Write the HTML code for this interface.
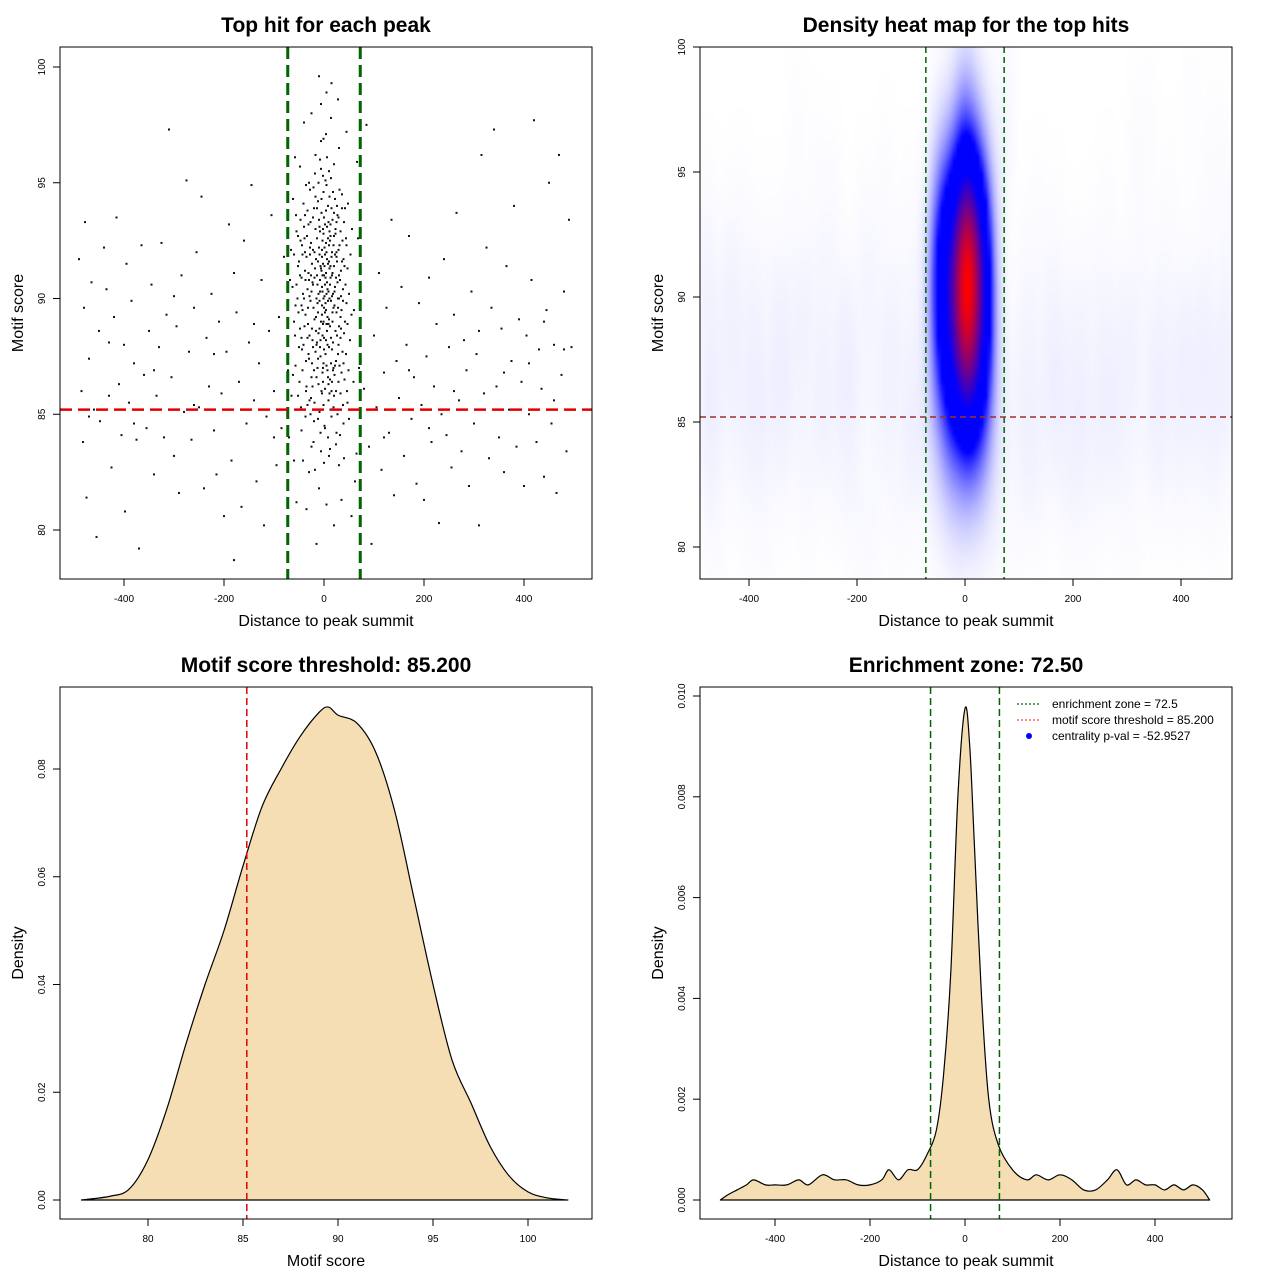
<!DOCTYPE html>
<html><head><meta charset="utf-8">
<style>
html,body{margin:0;padding:0;background:#fff;width:1280px;height:1280px;overflow:hidden;font-family:"Liberation Sans",sans-serif;}
#heat{position:absolute;left:700px;top:47px;}
#svg{position:absolute;left:0;top:0;}
</style></head>
<body>
<canvas id="heat" width="532" height="532"></canvas>
<svg id="svg" width="1280" height="1280" xmlns="http://www.w3.org/2000/svg"></svg>
<script>
// ---------- data ----------
const outerHits = [[-490,91.7],[-485,86],[-482,83.8],[-480,89.6],[-478,93.3],[-475,81.4],[-470,87.4],[-465,90.7],[-460,85.2],[-455,79.7],[-450,88.6],[-448,84.7],[-440,92.2],[-435,90.4],[-430,85.8],[-425,82.7],[-420,89.2],[-415,93.5],[-410,86.3],[-405,84.1],[-400,88.0],[-398,80.8],[-395,91.5],[-390,85.5],[-385,89.9],[-380,87.2],[-375,83.9],[-370,79.2],[-365,92.3],[-360,86.7],[-355,84.4],[-350,88.6],[-345,90.6],[-340,82.4],[-335,85.8],[-330,87.9],[-325,92.4],[-320,84.0],[-315,89.3],[-310,97.3],[-305,86.6],[-300,83.2],[-295,88.8],[-290,81.6],[-285,91.0],[-280,85.1],[-275,95.1],[-270,87.7],[-265,83.9],[-260,89.6],[-255,92.0],[-250,85.3],[-245,94.4],[-240,81.8],[-235,88.3],[-230,86.2],[-225,90.2],[-220,84.3],[-215,82.4],[-210,89.0],[-205,85.9],[-200,80.6],[-195,87.7],[-190,93.2],[-185,83.0],[-180,78.7],[-175,89.4],[-170,86.4],[-165,81.0],[-160,92.5],[-155,84.6],[-150,88.1],[-145,94.9],[-140,85.6],[-135,82.1],[-130,87.2],[-125,90.8],[-120,80.2],[-115,84.9],[-110,88.6],[-105,93.6],[-100,86.0],[-95,82.8],[-90,89.2],[-85,84.4],[-80,91.8],
[80,86.1],[85,97.5],[90,83.6],[95,79.4],[100,88.4],[105,85.3],[110,91.1],[115,82.6],[120,86.8],[125,89.6],[130,84.2],[135,93.4],[140,81.5],[145,87.3],[150,85.7],[155,90.5],[160,83.2],[165,88.0],[170,92.7],[175,84.8],[180,86.6],[185,82.0],[190,89.8],[195,85.4],[200,81.3],[205,87.5],[210,90.9],[215,83.8],[220,86.2],[225,88.9],[230,80.3],[235,85.0],[240,91.7],[245,84.1],[250,87.9],[255,82.7],[260,89.3],[265,93.7],[270,85.6],[275,83.4],[280,88.2],[285,86.9],[290,81.9],[295,90.3],[300,84.6],[305,87.6],[310,80.2],[315,96.2],[320,85.9],[325,92.2],[330,83.1],[335,89.6],[340,97.3],[345,86.2],[350,84.0],[355,88.7],[360,82.5],[365,91.4],[370,85.2],[375,87.3],[380,94.0],[385,83.6],[390,89.1],[395,86.4],[400,81.9],[405,88.4],[410,85.0],[415,90.8],[420,97.7],[425,83.8],[430,87.8],[435,86.1],[440,82.3],[445,89.5],[450,95.0],[455,84.6],[460,88.0],[465,81.6],[470,96.2],[475,86.7],[480,90.3],[485,83.4],[490,93.4],[495,87.9],[498,85.2],
[-470,84.9],[-430,88.1],[-380,84.6],[-340,86.9],[-300,90.1],[-260,85.4],[-220,87.6],[-180,91.1],[-140,88.9],[-100,84.0],[120,84.0],[170,86.9],[210,84.4],[260,86.0],[310,88.6],[360,86.8],[410,87.2],[460,85.6],[480,87.8],[440,89.0]];
const centralHits = [[-5,91.2],[3,89.8],[12,92.5],[-14,88.1],[8,94.0],[-22,90.6],[18,86.9],[-2,95.3],[25,91.8],[-30,87.4],[6,88.6],[-9,93.1],[33,89.2],[-38,92.0],[15,84.9],[-17,96.2],[1,90.1],[27,93.6],[-26,85.7],[10,87.9],
[-1,92.8],[21,90.3],[-11,86.3],[36,94.5],[-45,89.7],[4,97.1],[-7,84.2],[16,91.0],[-33,93.8],[29,88.0],[-19,90.9],[9,85.6],[-4,89.3],[41,86.5],[-52,91.4],[13,93.2],[-24,88.7],[2,91.9],[20,95.8],[-13,87.0],
[7,90.4],[-36,86.0],[31,92.3],[-6,98.4],[17,89.0],[-28,94.7],[39,84.6],[0,93.5],[-16,91.7],[24,87.3],[-42,90.2],[11,92.9],[-3,86.8],[47,91.3],[-58,88.4],[5,94.9],[-21,83.8],[28,90.0],[-10,92.2],[14,88.3],
[-8,90.8],[23,93.0],[-31,91.1],[3,87.6],[35,89.5],[-47,93.4],[19,85.3],[-12,94.2],[44,92.6],[-2,88.9],[8,91.5],[-25,86.6],[30,96.5],[-15,90.0],[12,83.5],[-39,88.8],[26,91.6],[-6,95.6],[52,88.2],[-63,90.5],
[0,89.6],[16,92.0],[-20,93.9],[37,87.7],[-9,85.1],[6,90.7],[-34,92.7],[22,94.3],[-1,87.2],[43,90.6],[-49,86.4],[10,89.1],[-18,91.3],[33,85.9],[-27,89.9],[4,92.4],[-5,93.7],[18,90.2],[-41,94.1],[56,93.0],
[-12,89.4],[2,86.1],[29,92.1],[-23,88.2],[14,97.8],[-37,90.8],[9,93.3],[-3,91.0],[40,88.5],[-55,92.9],[21,86.7],[-8,90.3],[25,89.4],[-30,95.0],[1,84.5],[-14,92.6],[34,91.2],[-44,87.8],[11,90.0],[-1,94.6],
[7,88.0],[-19,85.5],[48,94.1],[-60,89.0],[15,91.8],[-26,92.4],[31,87.1],[-4,89.7],[3,95.1],[-11,88.5],[20,93.7],[-35,86.2],[38,90.4],[-50,91.6],[5,92.0],[-17,94.4],[27,85.0],[-7,87.5],[13,90.9],[-29,90.1],
[-2,91.5],[45,89.8],[-40,93.1],[9,86.3],[-13,90.6],[23,92.8],[-22,87.9],[0,88.3],[36,93.9],[-46,85.3],[17,89.4],[-6,96.8],[30,91.0],[-32,88.9],[6,93.1],[-9,91.9],[59,86.4],[-66,92.1],[12,88.8],[-16,89.2],
[2,90.6],[-24,91.5],[19,87.0],[-37,89.3],[41,91.4],[-3,92.5],[8,84.0],[-20,86.9],[26,94.0],[-53,90.0],[14,89.9],[-10,93.4],[33,88.3],[-28,92.2],[4,91.1],[-5,86.0],[22,90.5],[-43,91.9],[50,90.2],[-57,87.1],
[-1,90.0],[10,95.5],[-15,88.0],[28,89.6],[-33,90.4],[5,88.9],[-8,92.9],[37,92.5],[-48,88.7],[15,93.9],[-21,89.6],[1,92.2],[24,86.0],[-38,91.2],[44,87.6],[-4,90.5],[11,91.3],[-27,93.3],[32,90.8],[-12,87.4],
[7,89.2],[-18,95.4],[20,91.4],[-41,88.0],[3,90.9],[-6,89.0],[35,86.8],[-31,87.6],[13,92.7],[-56,93.6],[53,91.9],[-2,93.0],[18,88.1],[-23,90.7],[9,90.3],[-14,91.0],[29,93.5],[-45,90.9],[0,87.8],[42,89.0],
[-9,88.7],[16,90.1],[-35,91.8],[6,91.7],[-17,87.7],[25,92.0],[-29,88.4],[2,89.4],[39,91.7],[-51,89.4],[12,86.5],[-4,91.8],[21,89.7],[-39,92.6],[8,92.6],[-11,90.2],[30,90.0],[-25,90.3],[47,85.5],[-62,86.7],
[4,88.2],[-7,91.4],[19,92.3],[-32,89.6],[14,87.2],[-19,92.0],[34,88.7],[-1,85.4],[10,91.6],[-44,92.3],[27,90.7],[-13,89.8],[5,90.2],[-22,93.5],[40,93.3],[-48,91.0],[17,91.1],[-3,88.4],[23,88.6],[-36,87.3],
[-60,83.0],[62,82.1],[-30,82.5],[35,81.3],[-10,81.8],[20,80.2],[-45,84.3],[50,84.8],[0,82.9],[-20,84.7],[10,83.2],[-55,81.2],[40,83.1],[-15,79.4],[25,84.2],[-35,80.9],[55,80.6],[5,81.1],[-25,83.6],[30,82.8],
[-70,84.0],[70,87.0],[65,83.3],[-65,85.8],[68,92.6],[-68,90.8],[72,98.3],[-72,86.9],[66,95.9],[-58,96.1],[45,97.2],[-40,97.6],[15,99.3],[-10,99.6],[5,98.9],[-25,98.0],[28,98.6],[-48,95.7],[60,89.5],[-62,94.3],
[-4,85.9],[13,85.2],[-27,85.0],[32,84.1],[-12,84.8],[8,86.6],[-37,84.9],[46,86.0],[-52,85.8],[20,85.8],[-6,83.4],[2,84.4],[-18,82.6],[38,85.4],[-42,83.0],[24,83.7],[-2,87.0],[16,86.4],[-33,85.4],[11,85.9],
[-28,91.9],[17,93.4],[-8,87.9],[33,92.9],[-43,89.5],[4,93.8],[-15,86.6],[26,88.4],[-55,90.6],[12,90.6],[-21,94.8],[38,89.9],[-1,89.0],[7,86.9],[-33,88.3],[22,91.9],[-5,94.3],[47,88.9],[-47,92.5],[14,95.2],
[-12,91.6],[29,86.4],[-38,93.6],[1,91.4],[19,89.6],[-24,87.2],[9,88.9],[-60,91.9],[42,93.9],[-3,90.3],[31,94.7],[-17,93.0],[5,87.1],[-30,90.8],[24,90.9],[-8,96.0],[55,89.3],[-50,87.9],[16,87.8],[-19,89.1],
[-36,94.9],[8,89.9],[28,87.6],[-11,95.0],[2,93.2],[-26,91.0],[36,91.6],[-45,88.3],[11,94.4],[-2,86.4],[20,92.7],[-14,93.9],[-52,92.7],[45,92.3],[6,96.1],[-22,92.1],[30,88.8],[-7,88.2],[15,86.0],[-40,90.0],
[0,91.0],[-31,93.2],[25,93.3],[-9,89.9],[13,91.4],[-57,89.7],[39,87.2],[-4,92.1],[18,94.6],[-23,86.2],[4,89.5],[-43,86.9],[34,90.1],[-16,88.6],[10,92.3],[-1,96.9],[49,86.9],[-29,85.6],[22,87.1],[-6,91.3]];
// density curve: motif score
const scoreX = [76.5,78,79,80,81,82,83,84,85,86,87,88,89,89.5,90,91,92,93,94,95,96,97,98,99,100,101,102.1];
const scoreDens = [0,.0007,.002,.0075,.017,.029,.040,.050,.062,.073,.080,.086,.0905,.0915,.090,.0885,.083,.072,.056,.040,.026,.018,.010,.0045,.0015,.0004,0];
// density curve: distance
const distX = [-515,-500,-480,-460,-445,-420,-400,-375,-350,-330,-300,-275,-250,-225,-200,-175,-160,-140,-120,-100,-80,-60,-45,-30,-15,0,10,20,35,50,70,100,130,150,175,200,225,250,275,300,320,340,360,380,400,420,440,460,480,500,515];
const distDens = [0,.0001,.0002,.0003,.0004,.0003,.0003,.0003,.0004,.0003,.0005,.0004,.0004,.0003,.0003,.0004,.0006,.0004,.0006,.0006,.0009,.0014,.0025,.0045,.008,.00975,.009,.007,.004,.002,.0011,.0006,.0004,.0005,.0004,.0005,.0004,.0002,.0002,.0004,.0006,.0003,.0004,.0003,.0003,.0002,.0003,.0002,.0003,.0002,0];
const ticksDist = [-400,-200,0,200,400];
const ticksScore = [80,85,90,95,100];
const ticksD3 = [0,0.02,0.04,0.06,0.08];
const ticksD4 = [0,0.002,0.004,0.006,0.008,0.010];
const ticksD4Labels = ["0.000","0.002","0.004","0.006","0.008","0.010"];
const ticksD3Labels = ["0.00","0.02","0.04","0.06","0.08"];
const zone = 72.5, threshold = 85.2;

// ---------- helpers ----------
const NS='http://www.w3.org/2000/svg';
const svg=document.getElementById('svg');
function el(tag,attrs,parent,text){const e=document.createElementNS(NS,tag);for(const k in attrs)e.setAttribute(k,attrs[k]);if(text!==undefined)e.textContent=text;(parent||svg).appendChild(e);return e;}
const lin=(d0,d1,r0,r1)=>v=>r0+(v-d0)*(r1-r0)/(d1-d0);
function smoothPath(pts){let d='M'+pts[0][0]+','+pts[0][1];
  for(let i=0;i<pts.length-1;i++){const p0=pts[Math.max(0,i-1)],p1=pts[i],p2=pts[i+1],p3=pts[Math.min(pts.length-1,i+2)];
    const c1x=p1[0]+(p2[0]-p0[0])/6,c1y=p1[1]+(p2[1]-p0[1])/6,c2x=p2[0]-(p3[0]-p1[0])/6,c2y=p2[1]-(p3[1]-p1[1])/6;
    d+=` C${c1x},${c1y} ${c2x},${c2y} ${p2[0]},${p2[1]}`;}
  return d+' Z';}

function panel(name,box,sx,sy,xt,xl,yt,yl,title,xlab,ylab){
  const g=el('g',{},svg);
  
  
  const t=el('text',{x:(box[0]+box[2])/2,y:box[1]-15,'text-anchor':'middle','font-size':'21','font-weight':'bold'},g,title);
  
  const xa=el('g',{},g);
  el('line',{x1:sx(xt[0]),x2:sx(xt[xt.length-1]),y1:box[3],y2:box[3],stroke:'#000'},xa);
  xt.forEach((v,i)=>{const x=sx(v);el('line',{x1:x,x2:x,y1:box[3],y2:box[3]+7,stroke:'#000'},xa);
    const tl=el('text',{x:x,y:box[3]+23,'text-anchor':'middle','font-size':'10'},xa,xl[i]);});
  const ya=el('g',{},g);
  el('line',{x1:box[0],x2:box[0],y1:sy(yt[0]),y2:sy(yt[yt.length-1]),stroke:'#000'},ya);
  yt.forEach((v,i)=>{const y=sy(v);el('line',{x1:box[0],x2:box[0]-7,y1:y,y2:y,stroke:'#000'},ya);
    const tl=el('text',{x:box[0]-15,y:y,'text-anchor':'middle','font-size':'10',transform:`rotate(-90 ${box[0]-15} ${y})`},ya,yl[i]);});
  const xtl=el('text',{x:(box[0]+box[2])/2,y:box[3]+47,'text-anchor':'middle','font-size':'16'},g,xlab);
  
  const cy=(box[1]+box[3])/2;
  const ytl=el('text',{x:box[0]-37,y:cy,'text-anchor':'middle','font-size':'16',transform:`rotate(-90 ${box[0]-37} ${cy})`},g,ylab);
  
  return g;
}
function frame(g,box){el('rect',{x:box[0],y:box[1],width:box[2]-box[0],height:box[3]-box[1],fill:'none',stroke:'#000'},g);}

// ---------- panel 1: scatter ----------
const b1=[60,47,592,579];
const x1=lin(0,400,324,524), y1=lin(80,100,530,67);
const g1=panel('scatter-panel',b1,x1,y1,ticksDist,ticksDist.map(String),ticksScore,ticksScore.map(String),'Top hit for each peak','Distance to peak summit','Motif score');
const allHits=outerHits.concat(centralHits);
const pg=el('g',{},g1);
allHits.forEach(p=>{const r=el('rect',{x:x1(p[0])-1,y:y1(p[1])-1,width:2,height:2,fill:'#111'},pg);
  
  });
[-zone,zone].forEach(v=>{const l=el('line',{x1:x1(v),x2:x1(v),y1:b1[1],y2:b1[3],stroke:'#006400','stroke-width':3,'stroke-dasharray':'12 6'},g1);
  });
{const l=el('line',{x1:b1[0],x2:b1[2],y1:y1(threshold),y2:y1(threshold),stroke:'#e00000','stroke-width':2.5,'stroke-dasharray':'12 6'},g1);
  }
frame(g1,b1);

// ---------- panel 2: heatmap ----------
const b2=[700,47,1232,579];
const x2=lin(0,200,965,1073), y2=lin(80,100,547,47);
const g2=panel('heatmap-panel',b2,x2,y2,ticksDist,ticksDist.map(String),ticksScore,ticksScore.map(String),'Density heat map for the top hits','Distance to peak summit','Motif score');
(function(){
  const cv=document.getElementById('heat'),ctx=cv.getContext('2d');
  const N=133,cell=4,hx=12,hy=2.6;
  const grid=new Float32Array(N*N);let mx=0;
  const ix=lin(965,1073,0,200), iy=lin(547,47,80,100);
  for(let j=0;j<N;j++){const yv=iy(47+j*cell+cell/2);
    for(let i=0;i<N;i++){const xv=ix(700+i*cell+cell/2);let s=0;
      for(const p of allHits){const dx=(p[0]-xv)/hx,dy=(p[1]-yv)/hy;const q=dx*dx+dy*dy;if(q<20)s+=Math.exp(-0.5*q);}
      grid[j*N+i]=s;if(s>mx)mx=s;}}
  const small=document.createElement('canvas');small.width=N;small.height=N;
  const sc=small.getContext('2d');const img=sc.createImageData(N,N);
  for(let k=0;k<N*N;k++){let t=grid[k]/mx;let r,g,b;
    if(t<0.35){const u=Math.pow(t/0.35,1.4);r=255*(1-u);g=255*(1-u);b=255;}
    else if(t<0.55){r=0;g=0;b=255;}
    else{const u=Math.min(1,(t-0.55)/0.45);r=255*u;g=0;b=255*(1-u);}
    img.data[k*4]=r;img.data[k*4+1]=g;img.data[k*4+2]=b;img.data[k*4+3]=255;}
  sc.putImageData(img,0,0);ctx.imageSmoothingEnabled=true;ctx.drawImage(small,0,0,532,532);
})();
[-zone,zone].forEach(v=>{const l=el('line',{x1:x2(v),x2:x2(v),y1:b2[1],y2:b2[3],stroke:'#006400','stroke-width':1.5,'stroke-dasharray':'6 4'},g2);
  });
{const l=el('line',{x1:b2[0],x2:b2[2],y1:y2(threshold),y2:y2(threshold),stroke:'#a0302a','stroke-width':1.5,'stroke-dasharray':'6 4'},g2);
  }
frame(g2,b2);

// ---------- panel 3: score density ----------
const b3=[60,687,592,1219];
const x3=lin(80,100,148,528), y3=lin(0,0.08,1200,769);
const g3=panel('score-density-panel',b3,x3,y3,ticksScore,ticksScore.map(String),ticksD3,ticksD3Labels,'Motif score threshold: 85.200','Motif score','Density');
{const p=el('path',{d:smoothPath(scoreX.map((v,i)=>[x3(v),y3(scoreDens[i])])),fill:'#f5deb3',stroke:'#000','stroke-width':1.2,'stroke-linejoin':'round'},g3);
 }
{const l=el('line',{x1:x3(threshold),x2:x3(threshold),y1:b3[1],y2:b3[3],stroke:'#e00000','stroke-width':1.5,'stroke-dasharray':'7 4'},g3);
 }
frame(g3,b3);

// ---------- panel 4: distance density ----------
const b4=[700,687,1232,1219];
const x4=lin(0,400,965,1155), y4=lin(0,0.01,1200,696);
const g4=panel('distance-density-panel',b4,x4,y4,ticksDist,ticksDist.map(String),ticksD4,ticksD4Labels,'Enrichment zone: 72.50','Distance to peak summit','Density');
{const p=el('path',{d:smoothPath(distX.map((v,i)=>[x4(v),y4(distDens[i])])),fill:'#f5deb3',stroke:'#000','stroke-width':1.2,'stroke-linejoin':'round'},g4);
 }
[-zone,zone].forEach(v=>{const l=el('line',{x1:x4(v),x2:x4(v),y1:b4[1],y2:b4[3],stroke:'#006400','stroke-width':1.5,'stroke-dasharray':'7 4'},g4);
  });
frame(g4,b4);
const lg=el('g',{},g4);
const legItems=[['enrichment zone = 72.5','#006400','line'],['motif score threshold = 85.200','#ff4040','line'],['centrality p-val = -52.9527','#0000ff','dot']];
legItems.forEach((it,i)=>{const y=704+i*16;const e=el('g',{},lg);
  
  if(it[2]==='line')el('line',{x1:1017,x2:1041,y1:y,y2:y,stroke:it[1],'stroke-width':1.2,'stroke-dasharray':'2 2'},e);
  else el('circle',{cx:1029,cy:y,r:3,fill:it[1]},e);
  el('text',{x:1052,y:y+4,'font-size':'12'},e,it[0]);});
</script>
</body></html>
